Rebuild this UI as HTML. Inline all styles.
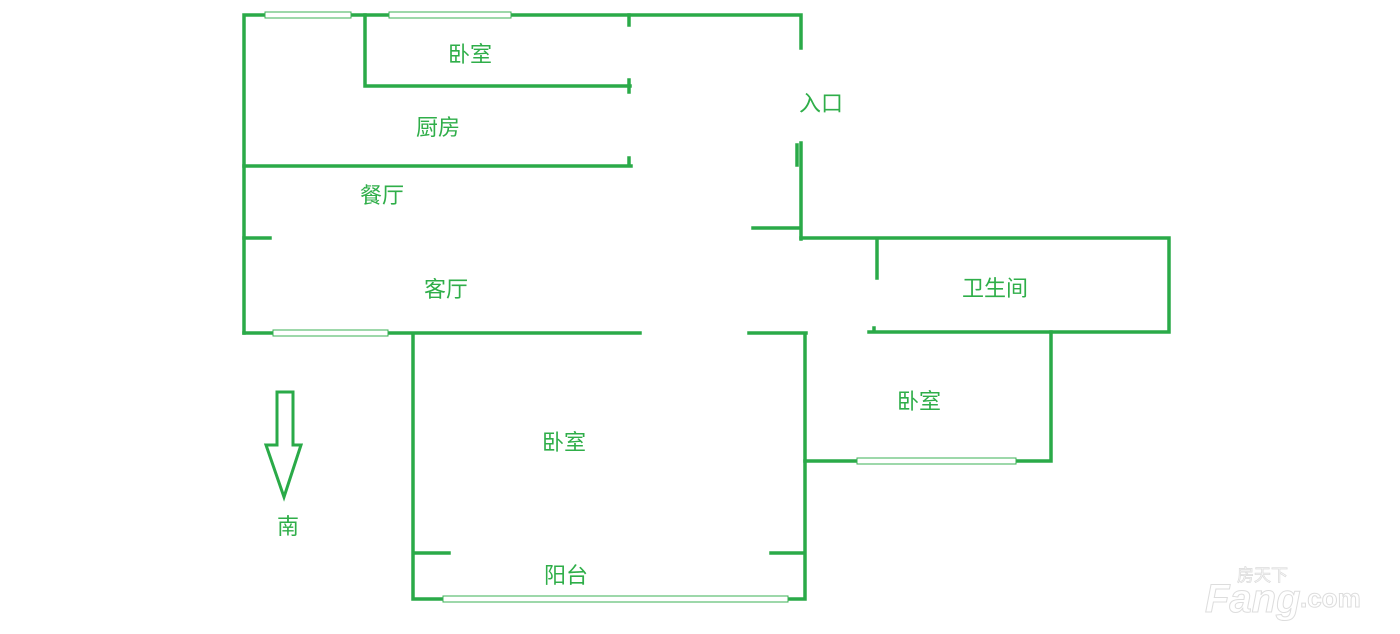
<!DOCTYPE html>
<html><head><meta charset="utf-8"><style>
html,body{margin:0;padding:0;background:#fff;width:1400px;height:634px;overflow:hidden}
text{font-family:"Liberation Sans","Noto Sans CJK SC",sans-serif;fill:#2fae49;font-size:22px}
</style></head><body>
<svg width="1400" height="634" xmlns="http://www.w3.org/2000/svg">
<g stroke="#2aaa48" stroke-width="3.5" fill="none" stroke-linecap="square">
<path d="M244 15H801M244 15V333M801 15V48M801 143V239M797 145V165M753 228H801"/>
<path d="M365 15V86H630M629 15V25M629 80V92M244 166H631M629 158V166"/>
<path d="M244 238H270M801 238H1169V332H869M877 238V278M874 328V332"/>
<path d="M244 333H640M749 333H806M413 333V599H805V333M413 553H449M771 553H805"/>
<path d="M805 461H1051V332"/>
</g>
<g fill="#fff" stroke="#3bb055" stroke-width="1">
<rect x="265" y="12" width="86" height="6"/>
<rect x="389" y="12" width="122" height="6"/>
<rect x="273" y="330" width="115" height="6"/>
<rect x="443" y="596" width="345" height="6"/>
<rect x="857" y="458" width="159" height="6"/>
</g>
<polygon points="277,392 293,392 293,445 301,445 284,497 266,445 277,445" fill="none" stroke="#2aaa48" stroke-width="3"/>
<text x="448" y="62">卧室</text>
<text x="416" y="135">厨房</text>
<text x="799" y="111">入口</text>
<text x="360" y="203">餐厅</text>
<text x="424" y="297">客厅</text>
<text x="962" y="296">卫生间</text>
<text x="897" y="409">卧室</text>
<text x="542" y="450">卧室</text>
<text x="544" y="583">阳台</text>
<text x="277" y="534">南</text>
<text x="1205" y="612" style="fill:#fff;stroke:#ddd;stroke-width:1;font-size:40px;font-weight:bold;font-style:italic">Fang</text>
<text x="1300" y="607" style="fill:#fff;stroke:#ddd;stroke-width:1;font-size:26px;font-weight:bold">.com</text>
<text x="1237" y="581" style="fill:#fff;stroke:#ddd;stroke-width:0.8;font-size:17px">房天下</text>
</svg>
</body></html>
